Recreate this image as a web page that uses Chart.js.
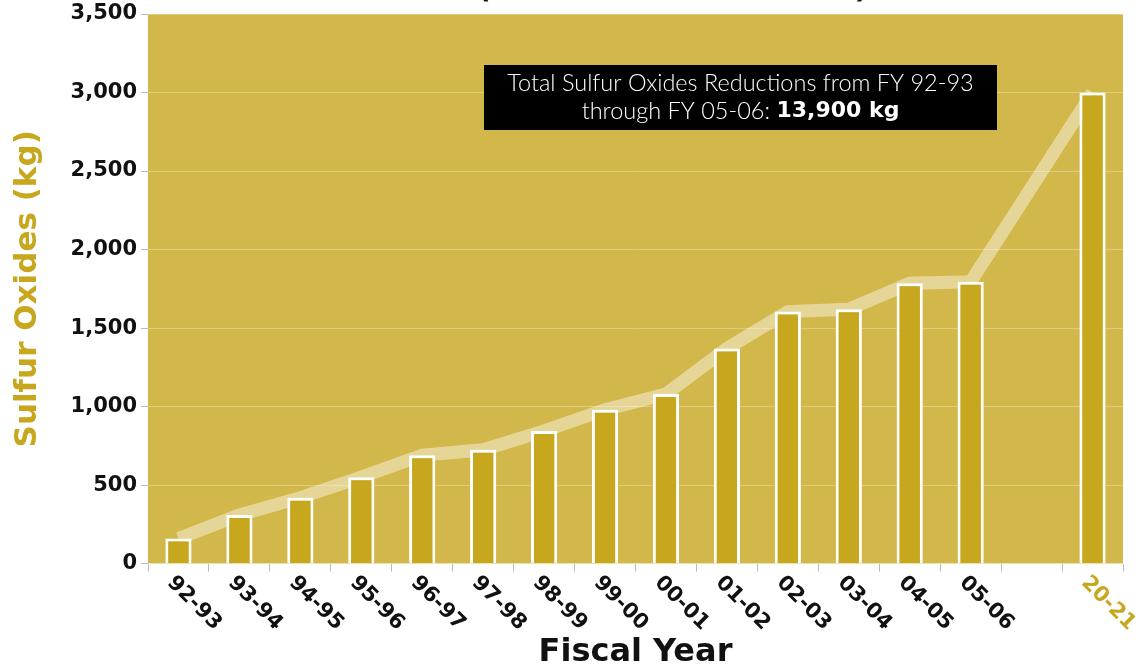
<!DOCTYPE html>
<html>
<head>
<meta charset="utf-8">
<script src="https://cdn.jsdelivr.net/npm/chart.js@4/dist/chart.umd.min.js"></script>
<style>
  html, body { margin: 0; padding: 0; background: #fff; overflow: hidden; }
  #wrap { position: absolute; left: 0; top: -26px; width: 1144px; height: 698px; }
</style>
</head>
<body>
<div id="wrap"><canvas id="soxChart"></canvas></div>
<script>
// fiscal years (blank slot between 05-06 and 20-21)
const years = ["92-93", "93-94", "94-95", "95-96", "96-97", "97-98", "98-99", "99-00",
               "00-01", "01-02", "02-03", "03-04", "04-05", "05-06", "", "20-21"];
// sulfur oxides reductions (kg)
const soxKg = [160, 310, 420, 550, 690, 725, 845, 980, 1080, 1370, 1605, 1620, 1785, 1795, null, 3000];
const yTicks = [0, 500, 1000, 1500, 2000, 2500, 3000, 3500];

const gold = '#C6A71D';
const plotBg = '#D2B84A';
const boldFont = '"DejaVu Sans"';

// gold plot background
const plotBackground = {
  id: 'plotBackground',
  beforeDraw(chart) {
    const { ctx, chartArea: a } = chart;
    ctx.save();
    ctx.fillStyle = plotBg;
    ctx.fillRect(a.left, a.top, a.right - a.left, a.bottom - a.top);
    ctx.restore();
  }
};

// x labels rotated down to the right, starting at each tick
const slantedLabels = {
  id: 'slantedLabels',
  afterDraw(chart) {
    const { ctx } = chart;
    const x = chart.scales.x;
    ctx.save();
    ctx.font = 'bold 21px "DejaVu Sans"';
    ctx.textAlign = 'left';
    ctx.textBaseline = 'middle';
    years.forEach((lab, i) => {
      if (!lab) return;
      ctx.save();
      ctx.translate(x.getPixelForValue(i) - 8, x.top + 16);
      ctx.rotate(Math.PI / 4);
      ctx.fillStyle = lab === '20-21' ? gold : '#111';
      ctx.fillText(lab, 0, 0);
      ctx.restore();
    });
    ctx.restore();
  }
};

// black note box
const noteBox = {
  id: 'noteBox',
  afterDraw(chart) {
    const { ctx, chartArea: a } = chart;
    const bx = a.left + 336, by = a.top + 51, bw = 513, bh = 65;
    const cx = bx + bw / 2;
    ctx.save();
    ctx.fillStyle = '#000';
    ctx.fillRect(bx, by, bw, bh);
    ctx.fillStyle = '#fff';
    ctx.textBaseline = 'middle';
    ctx.textAlign = 'center';
    ctx.font = '300 23.5px Lato';
    ctx.fillText('Total Sulfur Oxides Reductions from FY 92-93', cx, by + 18);
    const part1 = 'through FY 05-06: ';
    const part2 = '13,900 kg';
    const w1 = ctx.measureText(part1).width;
    ctx.font = 'bold 22px "DejaVu Sans"';
    const w2 = ctx.measureText(part2).width;
    const sx = cx - (w1 + w2) / 2;
    ctx.textAlign = 'left';
    ctx.font = '300 23.5px Lato';
    ctx.fillText(part1, sx, by + 46);
    ctx.font = 'bold 22px "DejaVu Sans"';
    ctx.fillText(part2, sx + w1, by + 46);
    ctx.restore();
  }
};

new Chart(document.getElementById('soxChart'), {
  type: 'bar',
  data: {
    labels: years,
    datasets: [{
      type: 'bar',
      label: 'Sulfur Oxides (kg)',
      data: soxKg,
      backgroundColor: gold,
      borderColor: '#fff',
      borderWidth: 3,
      barPercentage: 0.86,
      categoryPercentage: 0.5,
      order: 1
    }, {
      type: 'line',
      label: 'Trend',
      data: soxKg,
      borderColor: 'rgba(255,255,255,0.43)',
      borderWidth: 13,
      borderJoinStyle: 'miter',
      pointRadius: 0,
      tension: 0,
      spanGaps: true,
      fill: false,
      order: 2
    }]
  },
  options: {
    responsive: true,
    maintainAspectRatio: false,
    animation: false,
    layout: { padding: { left: 0, right: 21, top: 0, bottom: 0 } },
    plugins: {
      legend: { display: false },
      tooltip: { enabled: false },
      title: {
        display: true,
        text: 'Sulfur Oxides (Cumulative Reductions)',
        color: '#111',
        font: { family: boldFont, size: 28, weight: 'bold', lineHeight: 1.2 },
        padding: { top: 0, bottom: 6.4 }
      }
    },
    scales: {
      x: {
        offset: true,
        grid: { offset: true, color: 'rgba(0,0,0,0)', tickColor: '#bbb', tickLength: 8, drawOnChartArea: false },
        border: { display: false },
        ticks: { display: false },
        title: {
          display: true,
          text: 'Fiscal Year',
          color: '#111',
          font: { family: boldFont, size: 32, weight: 'bold', lineHeight: 1.2 },
          padding: { top: 62, bottom: 0 }
        }
      },
      y: {
        min: 0,
        max: 3500,
        afterBuildTicks(scale) { scale.ticks = yTicks.map(v => ({ value: v })); },
        afterFit(scale) { scale.width = 148; },
        grid: { color: 'rgba(255,255,255,0.3)', tickColor: '#bbb', tickLength: 7 },
        border: { display: false },
        ticks: {
          color: '#111',
          padding: 4,
          font: { family: boldFont, size: 21, weight: 'bold' },
          callback: v => v.toLocaleString('en-US')
        },
        title: {
          display: true,
          text: 'Sulfur Oxides (kg)',
          color: gold,
          font: { family: boldFont, size: 31, weight: 'bold', lineHeight: 1.2 },
          padding: { top: 9, bottom: 0 }
        }
      }
    }
  },
  plugins: [plotBackground, slantedLabels, noteBox]
});
</script>
</body>
</html>
